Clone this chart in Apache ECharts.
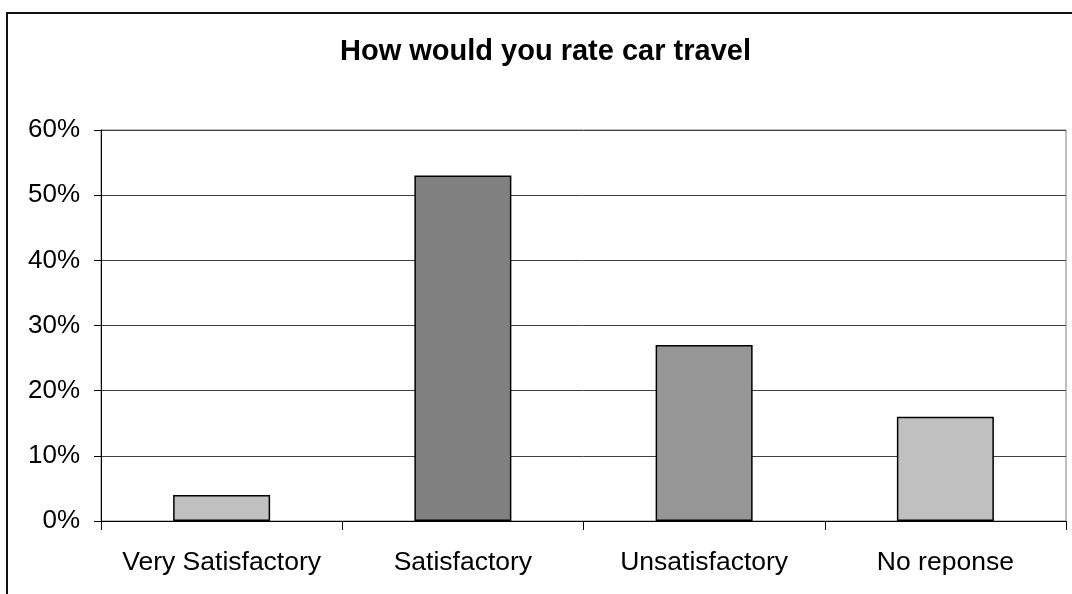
<!DOCTYPE html>
<html>
<head>
<meta charset="utf-8">
<script src="https://cdn.jsdelivr.net/npm/echarts@6/dist/echarts.min.js"></script>
<style>
html,body{margin:0;padding:0;background:#fff;}
#chart{width:1072px;height:594px;}
</style>
</head>
<body>
<div id="chart"></div>
<script>
const categories = ['Very Satisfactory', 'Satisfactory', 'Unsatisfactory', 'No reponse'];
const values = [4, 53, 27, 16];
const barColors = ['#C0C0C0', '#808080', '#969696', '#C0C0C0'];
const titleText = 'How would you rate car travel';

const FONT = "'Liberation Sans', Arial, sans-serif";
const chart = echarts.init(document.getElementById('chart'), null, {renderer: 'canvas'});
chart.setOption({
  animation: false,
  backgroundColor: '#fff',
  title: {
    text: titleText,
    left: 335,
    top: 32,
    textStyle: {fontFamily: FONT, fontSize: 29, fontWeight: 'bold', color: '#000'}
  },
  graphic: [{
    type: 'rect',
    shape: {x: 7, y: 13, width: 1200, height: 800},
    style: {fill: 'none', stroke: '#111', lineWidth: 2},
    silent: true,
    z: 100
  }],
  grid: {
    left: 101, right: 6, top: 130, bottom: 73,
    show: true, borderColor: '#808080', borderWidth: 1, backgroundColor: 'transparent'
  },
  xAxis: {
    type: 'category',
    data: categories,
    boundaryGap: true,
    axisLine: {lineStyle: {color: '#000', width: 1}},
    axisTick: {show: true, alignWithLabel: false, length: 9, lineStyle: {color: '#000'}},
    axisLabel: {fontFamily: FONT, fontSize: 26.5, color: '#000', margin: 28, interval: 0}
  },
  yAxis: {
    type: 'value',
    min: 0, max: 60, interval: 10,
    axisLine: {show: true, lineStyle: {color: '#000', width: 1}},
    axisTick: {show: true, length: 7, lineStyle: {color: '#000'}},
    axisLabel: {fontFamily: FONT, fontSize: 26, color: '#000', margin: 21, formatter: '{value}%'},
    splitLine: {show: true, lineStyle: {color: '#404040', width: 1}}
  },
  series: [{
    type: 'bar',
    barWidth: 97,
    data: values.map((v, i) => ({value: v, itemStyle: {color: barColors[i]}})),
    itemStyle: {borderColor: '#000', borderWidth: 1.5}
  }]
});
</script>
</body>
</html>
